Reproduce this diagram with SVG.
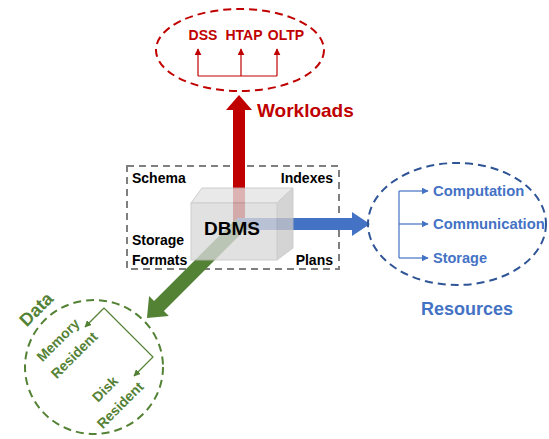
<svg xmlns="http://www.w3.org/2000/svg" width="549" height="439" viewBox="0 0 549 439">
<style>
text{font-family:"Liberation Sans",Arial,sans-serif;font-weight:bold}
.red{fill:#C00000}
.blue{fill:#4472C4}
.green{fill:#548235}
.blk{fill:#000}
</style>
<defs>
<marker id="ar" viewBox="0 0 10 10" refX="9" refY="5" markerWidth="7" markerHeight="7" markerUnits="userSpaceOnUse" orient="auto"><path d="M0,0L10,5L0,10z" fill="#C00000"/></marker>
<marker id="ab" viewBox="0 0 10 10" refX="9" refY="5" markerWidth="7" markerHeight="7" markerUnits="userSpaceOnUse" orient="auto"><path d="M0,0L10,5L0,10z" fill="#4472C4"/></marker>
<marker id="ag" viewBox="0 0 10 10" refX="9" refY="5" markerWidth="7" markerHeight="7" markerUnits="userSpaceOnUse" orient="auto"><path d="M0,0L10,5L0,10z" fill="#548235"/></marker>
</defs>
<rect width="549" height="439" fill="#fff"/>

<g id="storage-box">
<rect x="127" y="166" width="212" height="103" fill="none" stroke="#7F7F7F" stroke-width="2" stroke-dasharray="7,5"/>
<text x="132" y="183" font-size="14" class="blk">Schema</text>
<text x="333" y="183" font-size="14" class="blk" text-anchor="end">Indexes</text>
<text x="132" y="245" font-size="14" class="blk">Storage</text>
<text x="132" y="265" font-size="14" class="blk">Formats</text>
<text x="333" y="265" font-size="14" class="blk" text-anchor="end">Plans</text>
</g>

<g id="connectors">
<polygon points="233,232 233,110 226,110 239,95 252,110 245,110 245,232" fill="#C00000"/>
<polygon points="237,218 352,218 352,212 370,224 352,236 352,230 237,230" fill="#4472C4"/>
<polygon transform="translate(241,224) rotate(135)" points="0,-7 116,-7 116,-14 133,0 116,14 116,7 0,7" fill="#548235"/>
</g>

<g id="dbms">
<g opacity="0.78">
<polygon points="191,203 202,188 293,188 277,203" fill="#E4E4E4" stroke="#BFBFBF" stroke-width="1"/>
<polygon points="277,203 293,188 293,248 277,260" fill="#C8C8C8" stroke="#BFBFBF" stroke-width="1"/>
<rect x="191" y="203" width="86" height="57" fill="#D9D9D9" stroke="#BFBFBF" stroke-width="1"/>
</g>
<text x="232" y="235" font-size="19" class="blk" text-anchor="middle">DBMS</text>
</g>

<g id="workloads">
<ellipse cx="240" cy="50" rx="84" ry="41" fill="none" stroke="#C00000" stroke-width="2" stroke-dasharray="8,5"/>
<text x="203" y="40" font-size="14" class="red" text-anchor="middle">DSS</text>
<text x="244" y="40" font-size="14" class="red" text-anchor="middle">HTAP</text>
<text x="286" y="40" font-size="14" class="red" text-anchor="middle">OLTP</text>
<path d="M198,76H277" fill="none" stroke="#C00000" stroke-width="1.2"/>
<path d="M198,76V49" stroke="#C00000" stroke-width="1.2" marker-end="url(#ar)"/>
<path d="M241,76V49" stroke="#C00000" stroke-width="1.2" marker-end="url(#ar)"/>
<path d="M277,76V49" stroke="#C00000" stroke-width="1.2" marker-end="url(#ar)"/>
<text x="257" y="117" font-size="19" class="red">Workloads</text>
</g>

<g id="resources">
<ellipse cx="457" cy="224" rx="89" ry="61" fill="none" stroke="#2F5597" stroke-width="2" stroke-dasharray="8,5"/>
<path d="M399,191V258" fill="none" stroke="#4472C4" stroke-width="1.2"/>
<path d="M399,191H428" stroke="#4472C4" stroke-width="1.2" marker-end="url(#ab)"/>
<path d="M399,224H428" stroke="#4472C4" stroke-width="1.2" marker-end="url(#ab)"/>
<path d="M399,258H428" stroke="#4472C4" stroke-width="1.2" marker-end="url(#ab)"/>
<text x="433" y="196" font-size="14.8" class="blue">Computation</text>
<text x="433" y="229" font-size="14.8" class="blue">Communication</text>
<text x="433" y="263" font-size="14.5" class="blue">Storage</text>
<text x="467" y="315" font-size="18" class="blue" text-anchor="middle">Resources</text>
</g>

<g id="data">
<ellipse cx="94" cy="367" rx="69" ry="67" fill="none" stroke="#548235" stroke-width="2" stroke-dasharray="8,5"/>
<path d="M104,308L85,327" stroke="#548235" stroke-width="1.2" marker-end="url(#ag)"/>
<path d="M104,308L153,357L134,376" fill="none" stroke="#548235" stroke-width="1.2" marker-end="url(#ag)"/>
<text transform="translate(36,309) rotate(-45)" y="6.5" font-size="18" class="green" text-anchor="middle">Data</text>
<text transform="translate(58,340) rotate(-45)" y="5" font-size="14" class="green" text-anchor="middle">Memory</text>
<text transform="translate(74,355) rotate(-45)" y="5" font-size="14" class="green" text-anchor="middle">Resident</text>
<text transform="translate(105,389) rotate(-45)" y="5" font-size="14" class="green" text-anchor="middle">Disk</text>
<text transform="translate(120,405) rotate(-45)" y="5" font-size="14" class="green" text-anchor="middle">Resident</text>
</g>
</svg>
